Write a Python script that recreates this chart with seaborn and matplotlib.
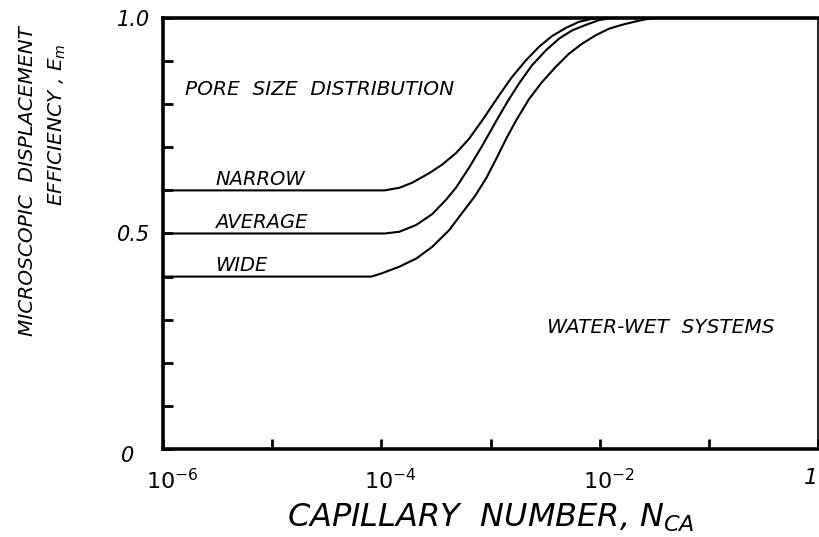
import seaborn as sns
import matplotlib.pyplot as plt
import matplotlib.transforms as mtransforms
import pandas as pd

# capillary number vs microscopic displacement efficiency
narrow_x = [1e-6, 1.07e-4, 1.46e-4, 1.92e-4, 2.74e-4, 3.61e-4, 4.84e-4, 6.36e-4, 8.36e-4,
            1.20e-3, 1.57e-3, 2.11e-3, 2.77e-3, 3.65e-3, 4.89e-3, 6.43e-3, 8.45e-3, 1.1e-2, 1.0]
narrow_y = [0.60, 0.60, 0.606, 0.618, 0.640, 0.660, 0.687, 0.720, 0.762,
            0.821, 0.863, 0.902, 0.933, 0.958, 0.977, 0.991, 0.998, 1.0, 1.0]

average_x = [1e-6, 1.07e-4, 1.46e-4, 2.09e-4, 2.92e-4, 3.9e-4, 4.84e-4, 6.36e-4, 8.36e-4, 1.12e-3,
             1.42e-3, 1.82e-3, 2.39e-3, 3.21e-3, 4.23e-3, 5.55e-3, 7.45e-3, 9.79e-3, 1.29e-2, 1.0]
average_y = [0.50, 0.50, 0.504, 0.520, 0.545, 0.578, 0.607, 0.653, 0.703, 0.760,
             0.805, 0.848, 0.890, 0.925, 0.952, 0.971, 0.984, 0.995, 1.0, 1.0]

wide_x = [1e-6, 8.1e-5, 1.02e-4, 1.46e-4, 2.09e-4, 2.92e-4, 4.18e-4, 5.97e-4, 7.2e-4, 9.1e-4,
          1.12e-3, 1.39e-3, 1.71e-3, 2.25e-3, 2.95e-3, 3.96e-3, 5.21e-3, 6.85e-3, 9.19e-3,
          1.21e-2, 1.59e-2, 2.13e-2, 2.63e-2, 3.2e-2, 1.0]
wide_y = [0.40, 0.40, 0.408, 0.423, 0.442, 0.469, 0.508, 0.560, 0.587, 0.628,
          0.672, 0.720, 0.762, 0.812, 0.851, 0.887, 0.917, 0.940, 0.960,
          0.975, 0.984, 0.992, 0.997, 1.0, 1.0]

xticks = [1e-6, 1e-5, 1e-4, 1e-3, 1e-2, 1e-1, 1.0]
xticklabels = [r'$10^{-6}$', '', r'$10^{-4}$', '', r'$10^{-2}$', '', '1']
yticks = [0, 0.1, 0.2, 0.3, 0.4, 0.5, 0.6, 0.7, 0.8, 0.9, 1.0]
yticklabels = ['0', '', '', '', '', '0.5', '', '', '', '', '1.0']

df = pd.concat([
    pd.DataFrame({'N': narrow_x, 'E': narrow_y, 'dist': 'NARROW'}),
    pd.DataFrame({'N': average_x, 'E': average_y, 'dist': 'AVERAGE'}),
    pd.DataFrame({'N': wide_x, 'E': wide_y, 'dist': 'WIDE'}),
])

sns.set_style('ticks')
plt.rcParams['font.family'] = ['DejaVu Sans']
plt.rcParams['mathtext.fontset'] = 'dejavusans'
plt.rcParams['mathtext.default'] = 'it'
plt.rcParams['text.color'] = 'black'
plt.rcParams['axes.labelcolor'] = 'black'
plt.rcParams['xtick.color'] = 'black'
plt.rcParams['ytick.color'] = 'black'

fig = plt.figure(figsize=(8.2, 5.37), dpi=100)
ax = fig.add_axes([0.1988, 0.1639, 0.799, 0.8026])

sns.lineplot(data=df, x='N', y='E', units='dist', estimator=None,
             color='black', linewidth=1.5, ax=ax, legend=False)

ax.set_xscale('log')
ax.set_xlim(1e-6, 1.0)
ax.set_ylim(0, 1.0)

ax.set_xticks(xticks)
ax.set_xticklabels(xticklabels, fontsize=16, style='italic')
ax.xaxis.set_minor_locator(plt.NullLocator())
ax.set_yticks(yticks)
ax.set_yticklabels(yticklabels, fontsize=15, style='italic')
ax.tick_params(direction='in', length=7, width=2, color='black')
ax.tick_params(axis='x', pad=14)
ax.tick_params(axis='y', pad=9)

# nudge labels like the hand-lettered original
shift_right = mtransforms.ScaledTranslation(9 / 100, 0, fig.dpi_scale_trans)
for lab in ax.get_xticklabels()[:-1]:
    lab.set_transform(lab.get_transform() + shift_right)
ax.get_xticklabels()[-1].set_horizontalalignment('right')
zero = ax.get_yticklabels()[0]
zero.set_transform(zero.get_transform() + mtransforms.ScaledTranslation(-16 / 100, -5 / 100, fig.dpi_scale_trans))

for side in ['left', 'bottom', 'top']:
    ax.spines[side].set_linewidth(2.6)
    ax.spines[side].set_color('black')
ax.spines['right'].set_linewidth(1.2)
ax.spines['right'].set_color('black')

ax.set_ylabel('')
ax.set_xlabel(r'CAPILLARY  NUMBER, $N_{CA}$', fontsize=23, style='italic', labelpad=6)

fig.text(28 / 820, 1 - 181 / 537, 'MICROSCOPIC  DISPLACEMENT', rotation=90,
         ha='center', va='center', fontsize=14.5, style='italic')
fig.text(57 / 820, 1 - 125 / 537, 'EFFICIENCY , $E_m$', rotation=90,
         ha='center', va='center', fontsize=14.5, style='italic')

txt = dict(style='italic', fontsize=14.5, color='black')
ax.text(1.59e-6, 0.835, 'PORE  SIZE  DISTRIBUTION', va='center', ha='left', **txt)
ax.text(3e-6, 0.625, 'NARROW', va='center', ha='left', fontsize=14, style='italic')
ax.text(3e-6, 0.525, 'AVERAGE', va='center', ha='left', fontsize=14, style='italic')
ax.text(3e-6, 0.425, 'WIDE', va='center', ha='left', fontsize=14, style='italic')
ax.text(3.3e-3, 0.283, 'WATER-WET  SYSTEMS', va='center', ha='left', **txt)

fig.savefig('out.png', dpi=100)
